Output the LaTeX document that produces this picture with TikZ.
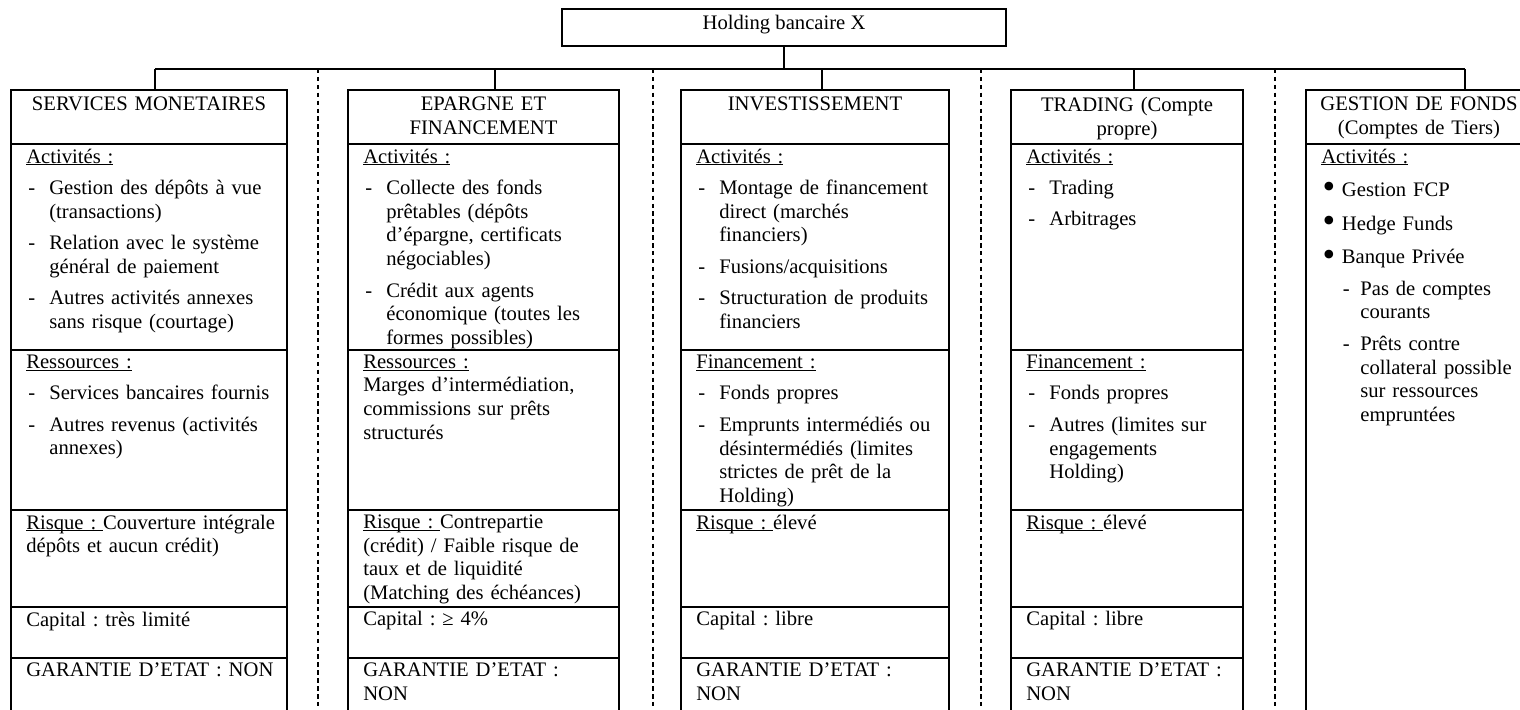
\documentclass[tikz,border=0pt]{standalone}
\usepackage{fontspec}
\setmainfont{Liberation Serif}
\frenchspacing

% soulignement, puces et tirets des listes
\newcommand{\souligne}[1]{\setbox0\hbox{#1}\rlap{\rule[-1.4pt]{\wd0}{0.6pt}}\box0}
\newcommand{\tiret}[1]{\par\vspace{4.5pt}\hangindent=13.4pt\hangafter=1\noindent\makebox[13.4pt][l]{\hspace{1.2pt}-}#1\par}
\newcommand{\puce}[1]{\par\vspace{5.7pt}\hangindent=12pt\hangafter=1\noindent\makebox[12pt][l]{\hspace{0.8pt}\smash{\raisebox{-1.4pt}{\fontsize{21pt}{0pt}\selectfont\textbullet}}}#1\par}
\newcommand{\soustiret}[1]{\par\vspace{4.5pt}\hangindent=22.7pt\hangafter=1\noindent\hspace*{12.5pt}\makebox[10.2pt][l]{-}#1\par}

\begin{document}
\begin{tikzpicture}[x=0.5814pt,y=-0.5814pt,font=\fontsize{12pt}{13.8pt}\selectfont,
	trait/.style={line width=1.1pt},
	pointille/.style={line width=0.9pt,dash pattern=on 2.6pt off 2pt},
	titre/.style={anchor=north,inner xsep=0pt,inner ysep=4pt,align=center},
	txt/.style={anchor=north west,inner xsep=8.7pt,inner ysep=2.5pt,text width=175pt,align=left}]
	\path[use as bounding box] (0,0) rectangle (1520,709);
	\clip (0,0) rectangle (1520,709);

	\node[draw,trait,anchor=north,minimum width=258.1pt,inner ysep=4pt,text height=8pt,text depth=5.5pt] (holding) at (784,8) {Holding bancaire X};

	% colonnes
	\foreach \l/\r in {11/287, 348/619, 681/949, 1011/1243, 1306/1538} {
		\draw[trait] (\l,90) rectangle (\r,740);
		\draw[trait] (\l,144) -- (\r,144);
	}
	\foreach \l/\r in {11/287, 348/619, 681/949, 1011/1243}
		\foreach \y in {350,510,607,658}
			\draw[trait] (\l,\y) -- (\r,\y);
	\foreach \x in {318,653,981,1275}
		\draw[pointille] (\x,69) -- (\x,709);

	\node[titre,text width=160.5pt] (ttl1) at (149,90) {SERVICES MONETAIRES};
	\node[titre,text width=157.6pt] (ttl2) at (483.5,90) {EPARGNE ET\\FINANCEMENT};
	\node[titre,text width=155.8pt] (ttl3) at (815,90) {INVESTISSEMENT};
	\node[titre,text width=134.9pt] (ttl4) at (1127,90) {TRADING (Compte\\propre)};
	\node[titre,text width=134.9pt] (ttl5) at (1419,90) {GESTION DE FONDS\\(Comptes de Tiers)};

	% liaisons
	\coordinate (b0) at (784,69);
	\foreach \i/\x in {1/155, 2/495, 3/822, 4/1134, 5/1465}
		\coordinate (b\i) at (\x,69);
	\draw[trait] (holding.south) -- (b0);
	\draw[trait] (b1) -- (b5);
	\foreach \i in {1,...,5}
		\draw[trait] (b\i) -- (b\i |- ttl\i.north);

	% services monetaires
	\node[txt] (act1) at (11,144) {\souligne{Activités :}
		\tiret{Gestion des dépôts à vue\newline (transactions)}
		\tiret{Relation avec le système\newline général de paiement}
		\tiret{Autres activités annexes\newline sans risque (courtage)}};
	\node[txt] (res1) at (11,350) {\souligne{Ressources :}
		\tiret{Services bancaires fournis}
		\tiret{Autres revenus (activités\newline annexes)}};
	\node[txt] (rsq1) at (11,510) {\souligne{Risque :\ }Couverture intégrale\newline dépôts et aucun crédit)};
	\node[txt] (cap1) at (11,607) {Capital : très limité};
	\node[txt] (gar1) at (11,658) {GARANTIE D’ETAT : NON};

	% epargne et financement
	\node[txt] (act2) at (348,144) {\souligne{Activités :}
		\tiret{Collecte des fonds\newline prêtables (dépôts\newline d’épargne, certificats\newline négociables)}
		\tiret{Crédit aux agents\newline économique (toutes les\newline formes possibles)}};
	\node[txt] (res2) at (348,350) {\souligne{Ressources :}\newline Marges d’intermédiation,\newline commissions sur prêts\newline structurés};
	\node[txt] (rsq2) at (348,510) {\souligne{Risque :\ }Contrepartie\newline (crédit) / Faible risque de\newline taux et de liquidité\newline (Matching des échéances)};
	\node[txt] (cap2) at (348,607) {Capital : ≥ 4\%};
	\node[txt] (gar2) at (348,658) {GARANTIE D’ETAT :\newline NON};

	% investissement
	\node[txt] (act3) at (681,144) {\souligne{Activités :}
		\tiret{Montage de financement\newline direct (marchés\newline financiers)}
		\tiret{Fusions/acquisitions}
		\tiret{Structuration de produits\newline financiers}};
	\node[txt] (res3) at (681,350) {\souligne{Financement :}
		\tiret{Fonds propres}
		\tiret{Emprunts intermédiés ou\newline désintermédiés (limites\newline strictes de prêt de la\newline Holding)}};
	\node[txt] (rsq3) at (681,510) {\souligne{Risque :\ }élevé};
	\node[txt] (cap3) at (681,607) {Capital : libre};
	\node[txt] (gar3) at (681,658) {GARANTIE D’ETAT :\newline NON};

	% trading
	\node[txt] (act4) at (1011,144) {\souligne{Activités :}
		\tiret{Trading}
		\tiret{Arbitrages}};
	\node[txt] (res4) at (1011,350) {\souligne{Financement :}
		\tiret{Fonds propres}
		\tiret{Autres (limites sur\newline engagements\newline Holding)}};
	\node[txt] (rsq4) at (1011,510) {\souligne{Risque :\ }élevé};
	\node[txt] (cap4) at (1011,607) {Capital : libre};
	\node[txt] (gar4) at (1011,658) {GARANTIE D’ETAT :\newline NON};

	% gestion de fonds
	\node[txt] (act5) at (1306,144) {\souligne{Activités :}
		\puce{Gestion FCP}
		\puce{Hedge Funds}
		\puce{Banque Privée}
		\soustiret{Pas de comptes\newline courants}
		\soustiret{Prêts contre\newline collateral possible\newline sur ressources\newline empruntées}};
\end{tikzpicture}
\end{document}
